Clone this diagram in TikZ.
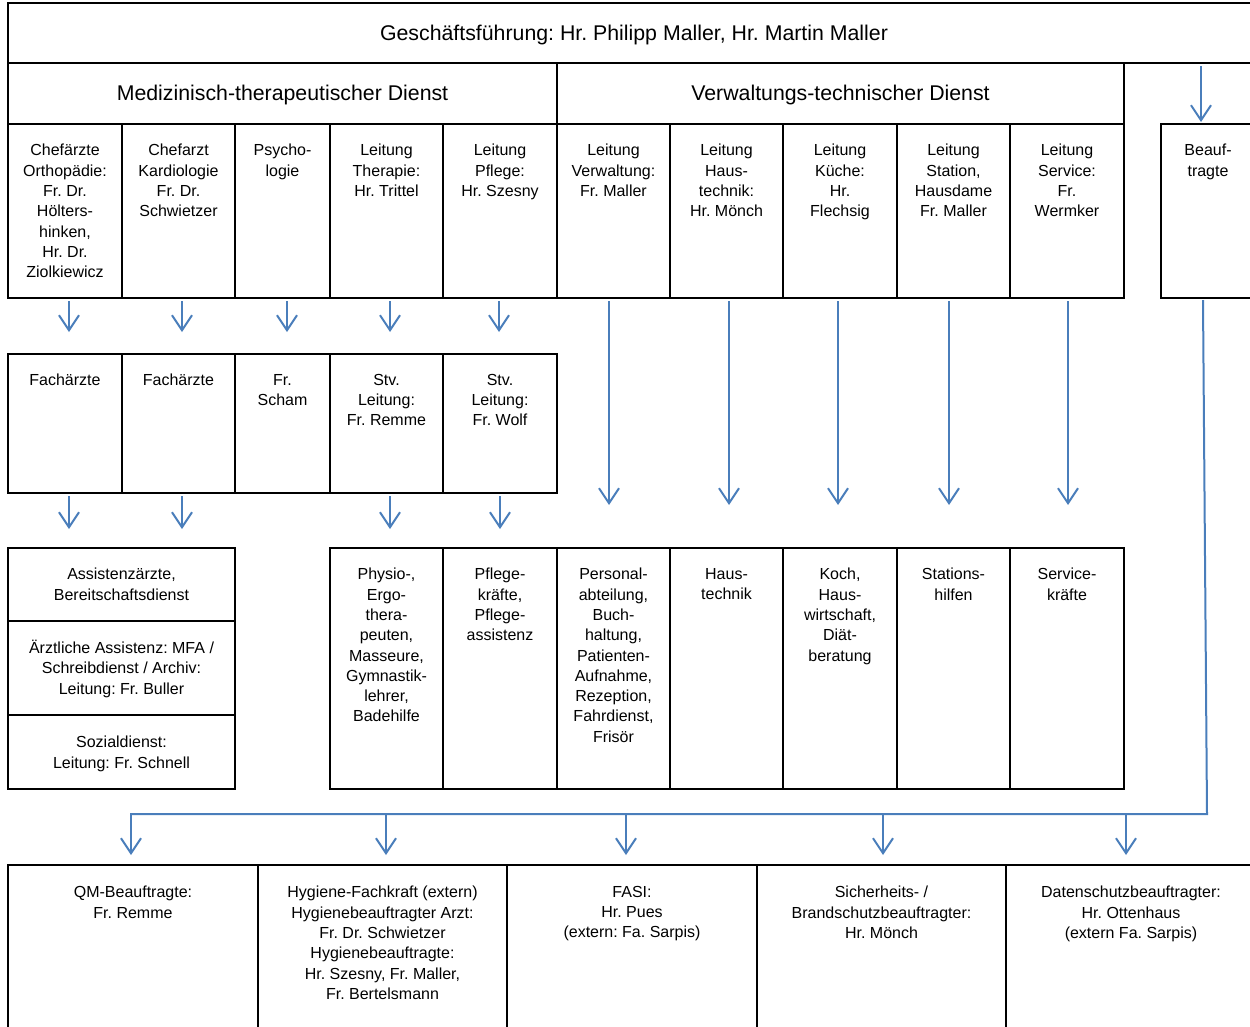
\documentclass[tikz,border=0pt]{standalone}
\usepackage{fontspec}
\setmainfont{Liberation Sans}
\frenchspacing
\usetikzlibrary{arrows.meta}
\definecolor{arrblue}{RGB}{74,126,187}
\tikzset{
  box/.style={draw=black, line width=2.6pt, rectangle, inner sep=0pt, outer sep=0pt, anchor=north west},
  txt/.style={font=\fontsize{16}{20.3}\selectfont\frenchspacing, align=center, inner sep=0pt, anchor=north, execute at begin node=\strut},
  head/.style={font=\fontsize{21.3}{25}\selectfont\frenchspacing, inner sep=0pt},
  arr/.style={draw=arrblue, line width=2pt, -{Straight Barb[length=15pt,width=20pt]}},
  bus/.style={draw=arrblue, line width=2pt},
}
\newcommand\mybox[5]{\node[box,minimum width=#4pt,minimum height=#5pt] (#1) at (#2,#3) {};}
\begin{document}
\begin{tikzpicture}[x=1pt,y=-1pt]
\useasboundingbox (0,0) rectangle (1250,1026);
\clip (0,0) rectangle (1250,1026);
% top
\mybox{top}{8}{3}{1252}{60}
\node[head] (topt) at ([yshift=-2pt]top.center) {Geschäftsführung: Hr. Philipp Maller, Hr. Martin Maller};
% headers
\mybox{med}{8}{63}{549}{61}
\mybox{ver}{557}{63}{567}{61}
\node[head] (medt) at ([yshift=-1.5pt]med.center) {Medizinisch-therapeutischer Dienst};
\node[head] (vert) at ([yshift=-1.5pt]ver.center) {Verwaltungs-technischer Dienst};
% row 3
\mybox{a1}{8}{124}{114}{174}
\mybox{a2}{122}{124}{113}{174}
\mybox{a3}{235}{124}{95}{174}
\mybox{a4}{330}{124}{113}{174}
\mybox{a5}{443}{124}{114}{174}
\mybox{a6}{557}{124}{113}{174}
\mybox{a7}{670}{124}{113}{174}
\mybox{a8}{783}{124}{114}{174}
\mybox{a9}{897}{124}{113}{174}
\mybox{a10}{1010}{124}{114}{174}
\mybox{beau}{1161}{124}{94}{174}
\node[txt] (a1t) at ([yshift=-20pt]a1.north) {Chefärzte\\Orthopädie:\\Fr. Dr.\\Hölters-\\hinken,\\Hr. Dr.\\Ziolkiewicz};
\node[txt] (a2t) at ([yshift=-20pt]a2.north) {Chefarzt\\Kardiologie\\Fr. Dr.\\Schwietzer};
\node[txt] (a3t) at ([yshift=-20pt]a3.north) {Psycho-\\logie};
\node[txt] (a4t) at ([yshift=-20pt]a4.north) {Leitung\\Therapie:\\Hr. Trittel};
\node[txt] (a5t) at ([yshift=-20pt]a5.north) {Leitung\\Pflege:\\Hr. Szesny};
\node[txt] (a6t) at ([yshift=-20pt]a6.north) {Leitung\\Verwaltung:\\Fr. Maller};
\node[txt] (a7t) at ([yshift=-20pt]a7.north) {Leitung\\Haus-\\technik:\\Hr. Mönch};
\node[txt] (a8t) at ([yshift=-20pt]a8.north) {Leitung\\Küche:\\Hr.\\Flechsig};
\node[txt] (a9t) at ([yshift=-20pt]a9.north) {Leitung\\Station,\\Hausdame\\Fr. Maller};
\node[txt] (a10t) at ([yshift=-20pt]a10.north) {Leitung\\Service:\\Fr.\\Wermker};
\node[txt] (beaut) at ([yshift=-20pt]beau.north) {Beauf-\\tragte};
% row 4
\mybox{b1}{8}{354}{114}{139}
\mybox{b2}{122}{354}{113}{139}
\mybox{b3}{235}{354}{95}{139}
\mybox{b4}{330}{354}{113}{139}
\mybox{b5}{443}{354}{114}{139}
\node[txt] (b1t) at ([yshift=-17pt]b1.north) {Fachärzte};
\node[txt] (b2t) at ([yshift=-17pt]b2.north) {Fachärzte};
\node[txt] (b3t) at ([yshift=-20pt]b3.north) {Fr.\\Scham};
\node[txt] (b4t) at ([yshift=-20pt]b4.north) {Stv.\\Leitung:\\Fr. Remme};
\node[txt] (b5t) at ([yshift=-20pt]b5.north) {Stv.\\Leitung:\\Fr. Wolf};
% row 5 left
\mybox{L1}{8}{548}{227}{73}
\mybox{L2}{8}{621}{227}{94}
\mybox{L3}{8}{715}{227}{74}
\node[txt] (L1t) at ([yshift=-20pt]L1.north) {Assistenzärzte,\\Bereitschaftsdienst};
\node[txt] (L2t) at ([yshift=-19pt]L2.north) {Ärztliche Assistenz: MFA /\\Schreibdienst / Archiv:\\Leitung: Fr. Buller};
\node[txt] (L3t) at ([yshift=-21pt]L3.north) {Sozialdienst:\\Leitung: Fr. Schnell};
% row 5 right
\mybox{r1}{330}{548}{113}{241}
\mybox{r2}{443}{548}{114}{241}
\mybox{r3}{557}{548}{113}{241}
\mybox{r4}{670}{548}{113}{241}
\mybox{r5}{783}{548}{114}{241}
\mybox{r6}{897}{548}{113}{241}
\mybox{r7}{1010}{548}{114}{241}
\node[txt] (r1t) at ([yshift=-20pt]r1.north) {Physio-,\\Ergo-\\thera-\\peuten,\\Masseure,\\Gymnastik-\\lehrer,\\Badehilfe};
\node[txt] (r2t) at ([yshift=-20pt]r2.north) {Pflege-\\kräfte,\\Pflege-\\assistenz};
\node[txt] (r3t) at ([yshift=-20pt]r3.north) {Personal-\\abteilung,\\Buch-\\haltung,\\Patienten-\\Aufnahme,\\Rezeption,\\Fahrdienst,\\Frisör};
\node[txt] (r4t) at ([yshift=-20pt]r4.north) {Haus-\\technik};
\node[txt] (r5t) at ([yshift=-20pt]r5.north) {Koch,\\Haus-\\wirtschaft,\\Diät-\\beratung};
\node[txt] (r6t) at ([yshift=-20pt]r6.north) {Stations-\\hilfen};
\node[txt] (r7t) at ([yshift=-20pt]r7.north) {Service-\\kräfte};
% bottom row
\mybox{q1}{8}{865}{250}{180}
\mybox{q2}{258}{865}{249}{180}
\mybox{q3}{507}{865}{250}{180}
\mybox{q4}{757}{865}{249}{180}
\mybox{q5}{1006}{865}{250}{180}
\node[txt] (q1t) at ([yshift=-21pt]q1.north) {QM-Beauftragte:\\Fr. Remme};
\node[txt] (q2t) at ([yshift=-21pt]q2.north) {Hygiene-Fachkraft (extern)\\Hygienebeauftragter Arzt:\\Fr. Dr. Schwietzer\\Hygienebeauftragte:\\Hr. Szesny, Fr. Maller,\\Fr. Bertelsmann};
\node[txt] (q3t) at ([yshift=-21pt]q3.north) {FASI:\\Hr. Pues\\(extern: Fa. Sarpis)};
\node[txt] (q4t) at ([yshift=-21pt]q4.north) {Sicherheits- /\\Brandschutzbeauftragter:\\Hr. Mönch};
\node[txt] (q5t) at ([yshift=-21pt]q5.north) {Datenschutzbeauftragter:\\Hr. Ottenhaus\\(extern Fa. Sarpis)};
% arrows row3 -> row4
\draw[arr, shorten <=3pt, shorten >=22pt] ([xshift=4pt]a1.south) -- ([xshift=4pt]b1.north);
\draw[arr, shorten <=3pt, shorten >=22pt] ([xshift=3.5pt]a2.south) -- ([xshift=3.5pt]b2.north);
\draw[arr, shorten <=3pt, shorten >=22pt] ([xshift=4.5pt]a3.south) -- ([xshift=4.5pt]b3.north);
\draw[arr, shorten <=3pt, shorten >=22pt] ([xshift=3.5pt]a4.south) -- ([xshift=3.5pt]b4.north);
\draw[arr, shorten <=3pt, shorten >=22pt] ([xshift=-1pt]a5.south) -- ([xshift=-1pt]b5.north);
% arrows row4 -> row5
\draw[arr, shorten <=3pt, shorten >=19pt] ([xshift=4pt]b1.south) -- ([xshift=4pt]b1.south |- L1.north);
\draw[arr, shorten <=3pt, shorten >=19pt] ([xshift=3.5pt]b2.south) -- ([xshift=3.5pt]b2.south |- L1.north);
\draw[arr, shorten <=3pt, shorten >=19pt] ([xshift=3.5pt]b4.south) -- ([xshift=3.5pt]r1.north);
\draw[arr, shorten <=3pt, shorten >=19pt] ([xshift=0pt]b5.south) -- ([xshift=0pt]r2.north);
% Verwaltung arrows
\draw[arr, shorten <=3pt, shorten >=43pt] ([xshift=-4.5pt]a6.south) -- ([xshift=-4.5pt]r3.north);
\draw[arr, shorten <=3pt, shorten >=43pt] ([xshift=2.5pt]a7.south) -- ([xshift=2.5pt]r4.north);
\draw[arr, shorten <=3pt, shorten >=43pt] ([xshift=-2pt]a8.south) -- ([xshift=-2pt]r5.north);
\draw[arr, shorten <=3pt, shorten >=43pt] ([xshift=-4.5pt]a9.south) -- ([xshift=-4.5pt]r6.north);
\draw[arr, shorten <=3pt, shorten >=43pt] ([xshift=1pt]a10.south) -- ([xshift=1pt]r7.north);
% Beauftragte
\draw[arr, shorten <=3pt, shorten >=2pt] ([xshift=-7pt]beau.north |- top.south) -- ([xshift=-7pt]beau.north);
\coordinate (busR) at (1207,814);
\coordinate (t1) at (131,814);
\coordinate (t2) at (386,814);
\coordinate (t3) at (626,814);
\coordinate (t4) at (883,814);
\coordinate (t5) at (1126,814);
\draw[bus, line cap=rect] ([xshift=-5pt,yshift=-3pt]beau.south) -- (busR) -- (t1);
\draw[arr, shorten >=10pt] (t1) -- (t1 |- q1.north);
\draw[arr, shorten >=10pt] (t2) -- (t2 |- q2.north);
\draw[arr, shorten >=10pt] (t3) -- (t3 |- q3.north);
\draw[arr, shorten >=10pt] (t4) -- (t4 |- q4.north);
\draw[arr, shorten >=10pt] (t5) -- (t5 |- q5.north);
\end{tikzpicture}
\end{document}
